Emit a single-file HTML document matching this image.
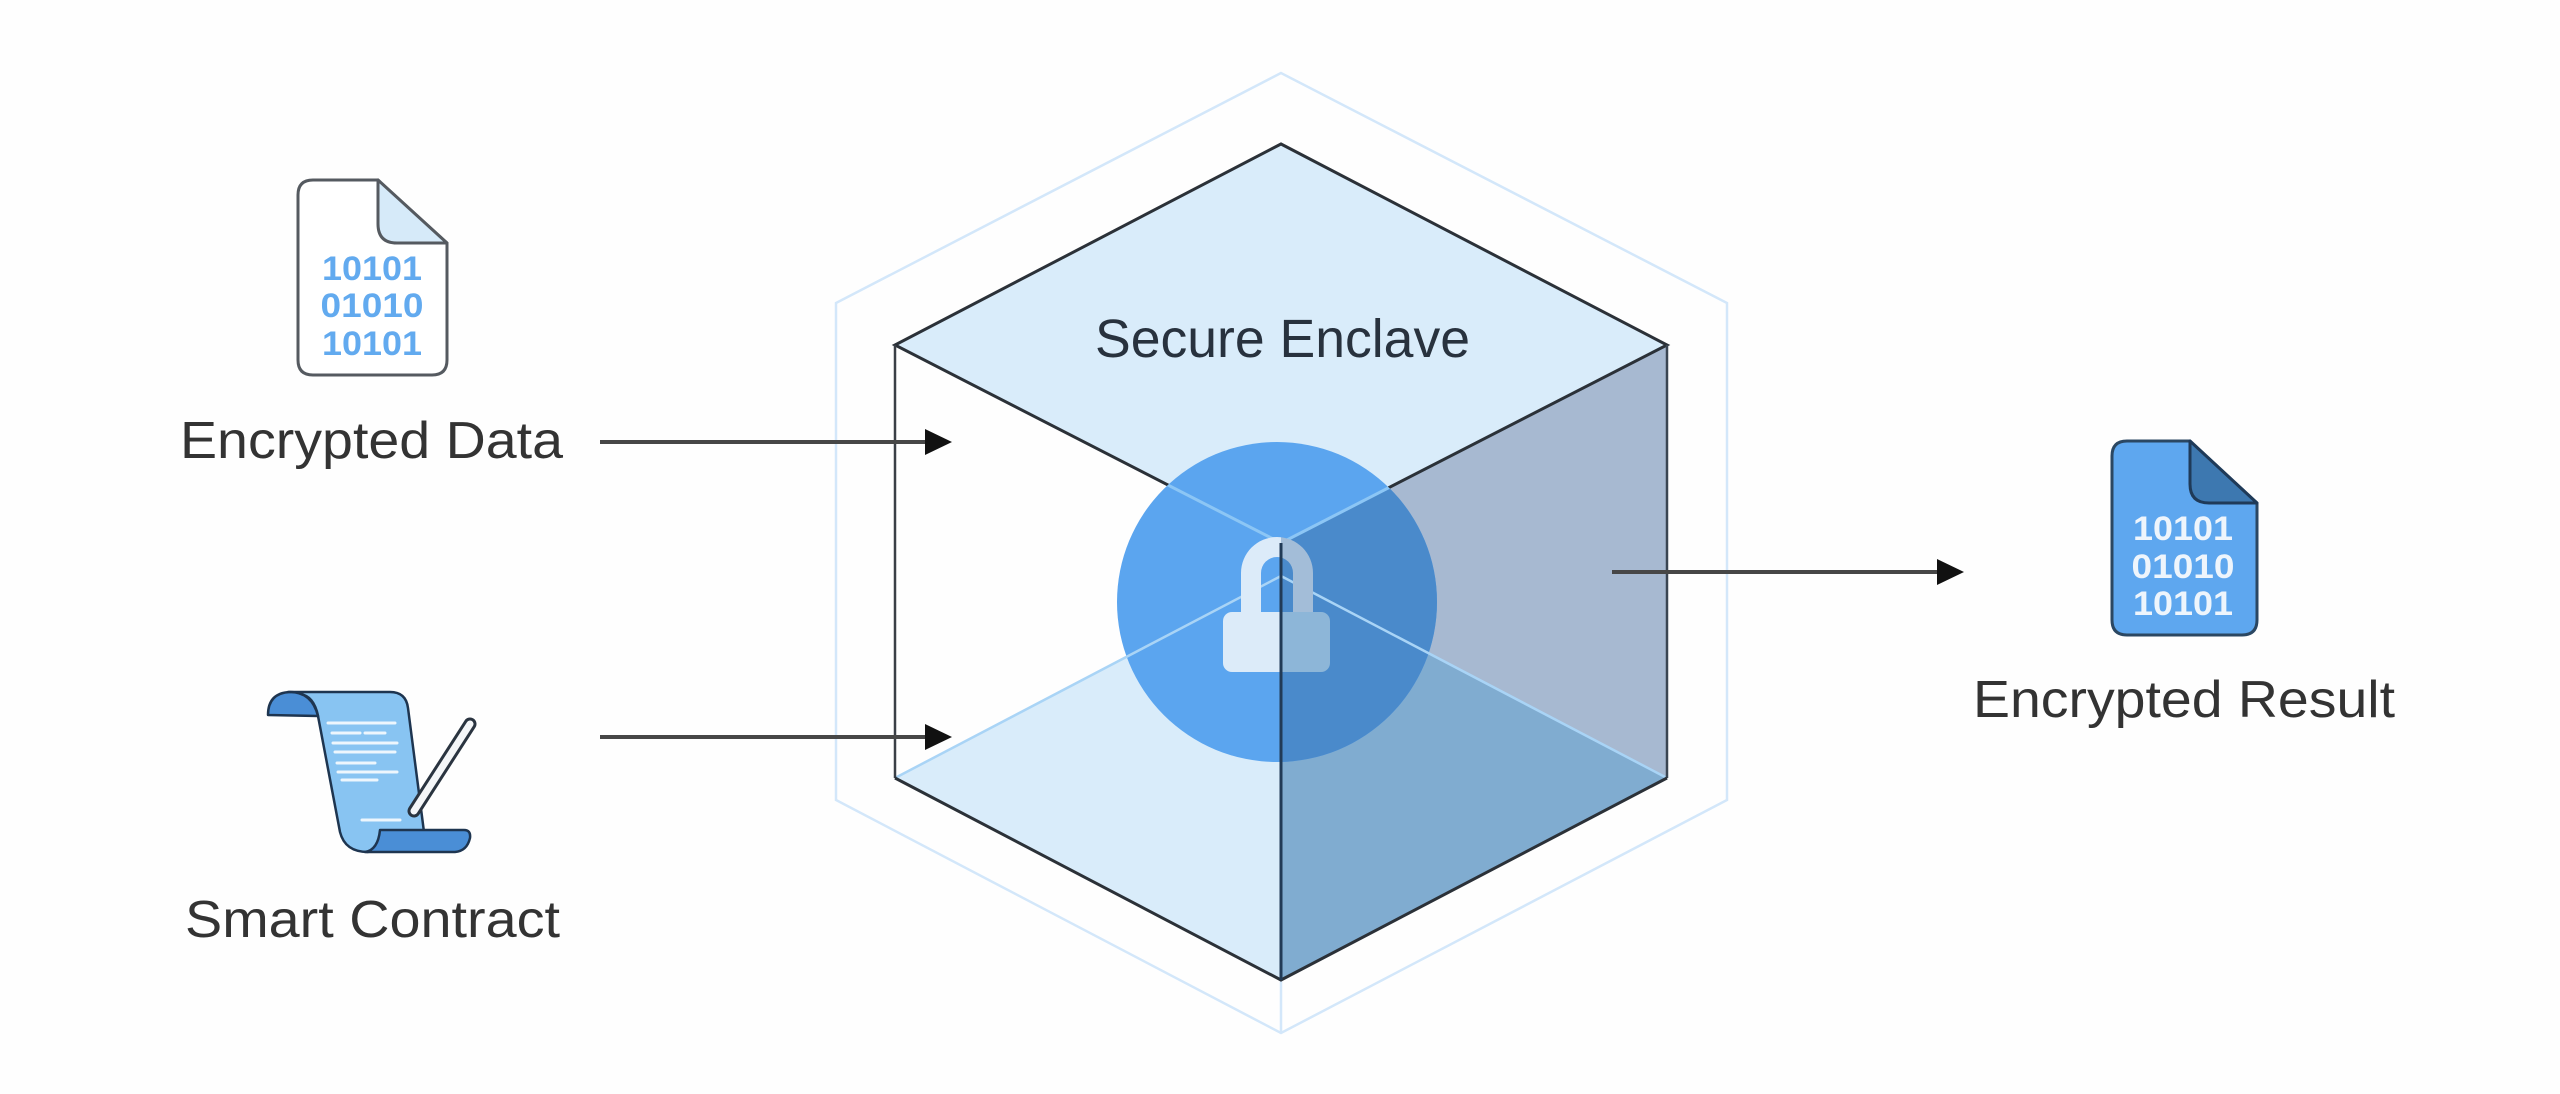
<!DOCTYPE html>
<html>
<head>
<meta charset="utf-8">
<style>
  html,body{margin:0;padding:0;background:#fefefe;}
  body{width:2560px;height:1094px;overflow:hidden;}
  svg{display:block;}
  text{font-family:"Liberation Sans", Arial, sans-serif;}
</style>
</head>
<body>
<svg width="2560" height="1094" viewBox="0 0 2560 1094" xmlns="http://www.w3.org/2000/svg">
  <defs>
    <clipPath id="circ"><circle cx="1277" cy="602" r="160"/></clipPath>
    <clipPath id="leftHalf"><rect x="0" y="0" width="1281" height="1094"/></clipPath>
    <clipPath id="rightHalf"><rect x="1281" y="0" width="1300" height="1094"/></clipPath>
    <clipPath id="rightFace"><polygon points="1281,543 1667,345 1667,778 1281,980"/></clipPath>
  </defs>
  <rect x="0" y="0" width="2560" height="1094" fill="#fefefe"/>

  <!-- outer hexagon -->
  <polygon points="1281,73 836,303 836,800 1281,1033 1727,800 1727,303" fill="none" stroke="#d3e7fa" stroke-width="2.5"/>
  <line x1="1281" y1="980" x2="1281" y2="1033" stroke="#d3e7fa" stroke-width="2.5"/>

  <!-- faces -->
  <polygon points="1281,144 895,345 1281,543 1667,345" fill="#d9ecfa"/>
  <polygon points="895,778 1281,576 1281,980" fill="#d9ecfa"/>
  <polygon points="1281,543 1667,345 1667,778 1281,576" fill="#a7b9d1"/>
  <polygon points="1281,576 1667,778 1281,980" fill="#80acd0"/>

  <!-- dark top face edges (under circle) -->
  <polygon points="1281,144 895,345 1281,543 1667,345" fill="none" stroke="#2b3138" stroke-width="3"/>

  <!-- circle -->
  <circle cx="1277" cy="602" r="160" fill="#5ba5ef"/>
  <g clip-path="url(#rightFace)"><circle cx="1277" cy="602" r="160" fill="#4a8acb"/></g>

  <!-- light edges inside circle -->
  <g clip-path="url(#circ)" stroke="#8cc6f5" stroke-width="3">
    <line x1="895" y1="345" x2="1281" y2="543"/>
    <line x1="1667" y1="345" x2="1281" y2="543"/>
  </g>
  <!-- light back edges of bottom face -->
  <g stroke="#a9d4f6" stroke-width="2.5">
    <line x1="895" y1="778" x2="1281" y2="576"/>
    <line x1="1667" y1="778" x2="1281" y2="576"/>
  </g>

  <!-- lock -->
  <g clip-path="url(#leftHalf)">
    <path d="M1241,612 L1241,573 A36,36 0 0 1 1313,573 L1313,612 L1293,612 L1293,573 A16,16 0 0 0 1261,573 L1261,612 Z" fill="#dcebf9"/>
    <rect x="1223" y="612" width="107" height="60" rx="9" fill="#dcebf9"/>
  </g>
  <g clip-path="url(#rightHalf)">
    <path d="M1241,612 L1241,573 A36,36 0 0 1 1313,573 L1313,612 L1293,612 L1293,573 A16,16 0 0 0 1261,573 L1261,612 Z" fill="#a3bdd8"/>
    <rect x="1223" y="612" width="107" height="60" rx="9" fill="#8db6d8"/>
  </g>

  <!-- dark edges -->
  <g stroke="#2b3138" stroke-width="3" fill="none">
    <line x1="895" y1="345" x2="895" y2="778" stroke="#3a3f46" stroke-width="2.5"/>
    <line x1="1667" y1="345" x2="1667" y2="778" stroke="#3a4552" stroke-width="2.5"/>
    <polyline points="895,778 1281,980 1667,778"/>
    <line x1="1281" y1="543" x2="1281" y2="980" stroke="#213a56" stroke-width="3"/>
  </g>

  <!-- Secure Enclave label -->
  <text x="1095" y="357" font-size="54" fill="#28323e" textLength="375" lengthAdjust="spacingAndGlyphs">Secure Enclave</text>

  <!-- arrows -->
  <g stroke="#474747" stroke-width="4">
    <line x1="600" y1="442" x2="928" y2="442"/>
    <line x1="600" y1="737" x2="928" y2="737"/>
    <line x1="1612" y1="572" x2="1940" y2="572"/>
  </g>
  <g fill="#111">
    <polygon points="925,429 952,442 925,455"/>
    <polygon points="925,724 952,737 925,750"/>
    <polygon points="1937,559 1964,572 1937,585"/>
  </g>

  <!-- Encrypted Data icon -->
  <path d="M313,180 L378,180 L447,243 L447,360 Q447,375 432,375 L313,375 Q298,375 298,360 L298,195 Q298,180 313,180 Z" fill="#ffffff" stroke="#555a60" stroke-width="3"/>
  <path d="M378,180 L378,224 Q378,243 397,243 L447,243 Z" fill="#d6eaf9" stroke="#555a60" stroke-width="3" stroke-linejoin="round"/>
  <g font-size="34" font-weight="bold" fill="#62aaef" text-anchor="middle">
    <text x="372" y="280" textLength="100" lengthAdjust="spacingAndGlyphs">10101</text>
    <text x="372" y="317" textLength="103" lengthAdjust="spacingAndGlyphs">01010</text>
    <text x="372" y="355" textLength="100" lengthAdjust="spacingAndGlyphs">10101</text>
  </g>
  <text x="180" y="458" font-size="52" fill="#333" textLength="383" lengthAdjust="spacingAndGlyphs">Encrypted Data</text>

  <!-- Smart Contract icon -->
  <g stroke="#1e3550" stroke-width="2.5" stroke-linejoin="round">
    <path d="M288,692 L390,692 Q406,692 408,708 L424,832 L368,852 Q345,852 340,832 L318,716 Q314,696 300,694 Z" fill="#88c4f2"/>
    <path d="M268,715 Q268,693 290,692 Q312,692 318,716 Z" fill="#4a8ed6"/>
    <path d="M365,852 Q378,850 380,830 L464,830 Q471,830 470,838 Q467,851 455,852 Z" fill="#4a8ed6"/>
  </g>
  <g stroke="#ffffff" stroke-width="3" stroke-linecap="round" opacity="0.85">
    <line x1="328" y1="723" x2="395" y2="723"/>
    <line x1="332" y1="733" x2="360" y2="733"/>
    <line x1="365" y1="733" x2="385" y2="733"/>
    <line x1="333" y1="743" x2="397" y2="743"/>
    <line x1="335" y1="752" x2="395" y2="752"/>
    <line x1="337" y1="763" x2="375" y2="763"/>
    <line x1="338" y1="772" x2="397" y2="772"/>
    <line x1="342" y1="780" x2="377" y2="780"/>
    <line x1="362" y1="820" x2="400" y2="820"/>
  </g>
  <line x1="414" y1="811" x2="470" y2="724" stroke="#2a3440" stroke-width="13" stroke-linecap="round"/>
  <line x1="414" y1="811" x2="470" y2="724" stroke="#f4f6f8" stroke-width="7" stroke-linecap="round"/>
  <text x="185" y="937" font-size="52" fill="#333" textLength="375" lengthAdjust="spacingAndGlyphs">Smart Contract</text>

  <!-- Encrypted Result icon -->
  <path d="M2127,441 L2190,441 L2257,503 L2257,620 Q2257,635 2242,635 L2127,635 Q2112,635 2112,620 L2112,456 Q2112,441 2127,441 Z" fill="#5ea7ef" stroke="#2b4762" stroke-width="3"/>
  <path d="M2190,441 L2190,484 Q2190,503 2209,503 L2257,503 Z" fill="#3d78b0" stroke="#1f3a58" stroke-width="3" stroke-linejoin="round"/>
  <g font-size="34" font-weight="bold" fill="#eef5fc" text-anchor="middle">
    <text x="2183" y="540" textLength="100" lengthAdjust="spacingAndGlyphs">10101</text>
    <text x="2183" y="578" textLength="103" lengthAdjust="spacingAndGlyphs">01010</text>
    <text x="2183" y="615" textLength="100" lengthAdjust="spacingAndGlyphs">10101</text>
  </g>
  <text x="1973" y="717" font-size="52" fill="#333" textLength="422" lengthAdjust="spacingAndGlyphs">Encrypted Result</text>
</svg>
</body>
</html>
